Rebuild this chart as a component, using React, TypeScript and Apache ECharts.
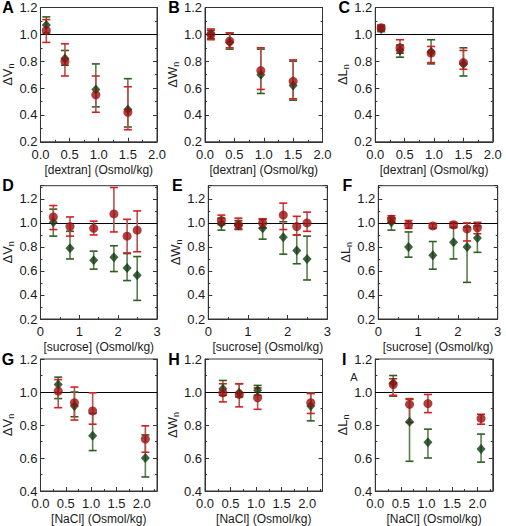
import React, { useEffect, useRef } from "react";
import * as echarts from "echarts";

// ---------- data ----------
const dextranOsm = [0.1, 0.42, 0.95, 1.5];
const sucroseOsm = [0.33, 0.76, 1.37, 1.89, 2.23, 2.49];
const naclOsm = [0.35, 0.67, 1.03, 2.07];

// Panel A – ΔVn, dextran
const aGreen = [1.07, 0.82, 0.59, 0.44];
const aGreenLo = [1.01, 0.77, 0.46, 0.31];
const aGreenHi = [1.13, 0.88, 0.78, 0.67];
const aRed = [1.03, 0.8, 0.55, 0.42];
const aRedLo = [0.94, 0.69, 0.42, 0.29];
const aRedHi = [1.11, 0.93, 0.69, 0.61];
// Panel B – ΔWn, dextran
const bGreen = [1.0, 0.94, 0.7, 0.62];
const bGreenLo = [0.97, 0.89, 0.56, 0.51];
const bGreenHi = [1.03, 1.01, 0.89, 0.8];
const bRed = [1.0, 0.95, 0.73, 0.65];
const bRedLo = [0.96, 0.9, 0.59, 0.52];
const bRedHi = [1.04, 1.01, 0.9, 0.81];
// Panel C – ΔLn, dextran
const cGreen = [1.04, 0.88, 0.87, 0.78];
const cGreenLo = [1.02, 0.83, 0.78, 0.69];
const cGreenHi = [1.06, 0.92, 0.96, 0.9];
const cRed = [1.05, 0.9, 0.86, 0.79];
const cRedLo = [1.03, 0.86, 0.79, 0.74];
const cRedHi = [1.07, 0.96, 0.91, 0.88];
// Panel D – ΔVn, sucrose
const dGreen = [1.005, 0.79, 0.69, 0.715, 0.625, 0.565];
const dGreenLo = [0.89, 0.7, 0.615, 0.595, 0.52, 0.355];
const dGreenHi = [1.115, 0.93, 0.765, 0.81, 0.745, 0.72];
const dRed = [1.05, 0.97, 0.955, 1.075, 0.89, 0.94];
const dRedLo = [0.945, 0.89, 0.9, 0.925, 0.75, 0.76];
const dRedHi = [1.145, 1.05, 1.015, 1.295, 1.03, 1.1];
// Panel E – ΔWn, sucrose
const eGreen = [0.995, 0.98, 0.955, 0.88, 0.77, 0.7];
const eGreenLo = [0.94, 0.945, 0.865, 0.74, 0.66, 0.525];
const eGreenHi = [1.04, 1.02, 1.03, 1.01, 0.9, 0.89];
const eRed = [1.02, 0.985, 1.0, 1.065, 0.97, 1.0];
const eRedLo = [0.985, 0.95, 0.96, 0.945, 0.9, 0.93];
const eRedHi = [1.065, 1.04, 1.035, 1.165, 1.055, 1.09];
// Panel F – ΔLn, sucrose
const fGreen = [1.005, 0.8, 0.73, 0.84, 0.8, 0.875];
const fGreenLo = [0.94, 0.715, 0.615, 0.7, 0.505, 0.755];
const fGreenHi = [1.04, 0.925, 0.845, 0.96, 0.965, 0.975];
const fRed = [1.03, 0.985, 0.975, 0.985, 0.95, 0.96];
const fRedLo = [1.0, 0.955, 0.955, 0.965, 0.85, 0.91];
const fRedHi = [1.06, 1.02, 0.995, 1.005, 1.0, 1.005];
// Panel G – ΔVn, NaCl
const gGreen = [1.045, 0.915, 0.735, 0.6];
const gGreenLo = [0.96, 0.85, 0.645, 0.485];
const gGreenHi = [1.09, 1.0, 0.87, 0.74];
const gRed = [1.005, 0.935, 0.885, 0.715];
const gRedLo = [0.905, 0.83, 0.805, 0.635];
const gRedHi = [1.075, 1.03, 0.995, 0.795];
// Panel H – ΔWn, NaCl
const hGreen = [1.02, 0.995, 1.01, 0.915];
const hGreenLo = [0.98, 0.97, 0.98, 0.825];
const hGreenHi = [1.07, 1.05, 1.04, 0.995];
const hRed = [0.995, 0.985, 0.965, 0.935];
const hRedLo = [0.94, 0.91, 0.895, 0.87];
const hRedHi = [1.05, 1.05, 1.025, 0.99];
// Panel I – ΔLn, NaCl
const iGreen = [1.055, 0.82, 0.695, 0.655];
const iGreenLo = [0.975, 0.58, 0.6, 0.575];
const iGreenHi = [1.1, 0.955, 0.775, 0.745];
const iRed = [1.045, 0.925, 0.93, 0.84];
const iRedLo = [0.98, 0.815, 0.875, 0.805];
const iRedHi = [1.08, 0.96, 0.985, 0.865];

const panelLetters = ["A", "B", "C", "D", "E", "F", "G", "H", "I"];
const yNames = ["ΔV", "ΔW", "ΔL", "ΔV", "ΔW", "ΔL", "ΔV", "ΔW", "ΔL"];
const xNames = [
  "[dextran] (Osmol/kg)",
  "[sucrose] (Osmol/kg)",
  "[NaCl] (Osmol/kg)",
];

// ---------- styling / layout ----------
const FONT = "'Liberation Sans', Arial, sans-serif";
const GREEN_CAP = "#2f5f1f";
const GREEN_STEM = "#5d8050";
const GREEN_MARK = "#0e3a10";
const RED_CAP = "#d42020";
const RED_STEM = "#b85050";
const RED_MARK = "#9a1010";

type Layout = { left: number; top: number; width: number; height: number };
const layouts: Layout[] = [
  { left: 39, top: 7.5, width: 118, height: 134.3 },
  { left: 205, top: 7.5, width: 117.5, height: 134.3 },
  { left: 375.3, top: 7.5, width: 117.5, height: 134.3 },
  { left: 39, top: 185.7, width: 118, height: 133.3 },
  { left: 208.3, top: 185.7, width: 119, height: 133.3 },
  { left: 378.3, top: 185.7, width: 119.4, height: 133.3 },
  { left: 39, top: 359, width: 118, height: 132.7 },
  { left: 205, top: 359, width: 117.5, height: 132.7 },
  { left: 375.3, top: 359, width: 117.5, height: 132.7 },
];
const rowY = [
  { min: 0.2, max: 1.2 },
  { min: 0.2, max: 1.31 },
  { min: 0.4, max: 1.2 },
];
const rowX = [
  { min: 0, max: 2, interval: 0.5, dec: 1 },
  { min: 0, max: 3, interval: 1, dec: 0 },
  { min: 0, max: 2.3, interval: 0.5, dec: 1 },
];

const panelData = [
  { x: dextranOsm, g: [aGreen, aGreenLo, aGreenHi], r: [aRed, aRedLo, aRedHi] },
  { x: dextranOsm, g: [bGreen, bGreenLo, bGreenHi], r: [bRed, bRedLo, bRedHi] },
  { x: dextranOsm, g: [cGreen, cGreenLo, cGreenHi], r: [cRed, cRedLo, cRedHi] },
  { x: sucroseOsm, g: [dGreen, dGreenLo, dGreenHi], r: [dRed, dRedLo, dRedHi] },
  { x: sucroseOsm, g: [eGreen, eGreenLo, eGreenHi], r: [eRed, eRedLo, eRedHi] },
  { x: sucroseOsm, g: [fGreen, fGreenLo, fGreenHi], r: [fRed, fRedLo, fRedHi] },
  { x: naclOsm, g: [gGreen, gGreenLo, gGreenHi], r: [gRed, gRedLo, gRedHi] },
  { x: naclOsm, g: [hGreen, hGreenLo, hGreenHi], r: [hRed, hRedLo, hRedHi] },
  { x: naclOsm, g: [iGreen, iGreenLo, iGreenHi], r: [iRed, iRedLo, iRedHi] },
];

function errorBar(cap: string, stem: string) {
  return (_params: any, api: any) => {
    const x = api.value(0);
    const pLo = api.coord([x, api.value(1)]);
    const pHi = api.coord([x, api.value(2)]);
    const hw = 4;
    return {
      type: "group",
      children: [
        {
          type: "line",
          shape: { x1: pHi[0], y1: pHi[1], x2: pLo[0], y2: pLo[1] },
          style: { stroke: stem, lineWidth: 1.6 },
        },
        {
          type: "line",
          shape: { x1: pHi[0] - hw, y1: pHi[1], x2: pHi[0] + hw, y2: pHi[1] },
          style: { stroke: cap, lineWidth: 1.6 },
        },
        {
          type: "line",
          shape: { x1: pLo[0] - hw, y1: pLo[1], x2: pLo[0] + hw, y2: pLo[1] },
          style: { stroke: cap, lineWidth: 1.6 },
        },
      ],
    };
  };
}

function buildOption() {
  const grid: any[] = [];
  const xAxis: any[] = [];
  const yAxis: any[] = [];
  const series: any[] = [];
  const graphic: any[] = [];
  const axisColor = "#333";
  const labelColor = "#1a1a1a";

  layouts.forEach((l, i) => {
    const row = Math.floor(i / 3);
    const xr = rowX[row];
    const yr = rowY[row];
    grid.push({
      left: l.left,
      top: l.top,
      width: l.width,
      height: l.height,
      show: true,
      borderColor: axisColor,
      borderWidth: 1,
      backgroundColor: "transparent",
    });
    xAxis.push({
      type: "value",
      gridIndex: i,
      min: xr.min,
      max: xr.max,
      interval: xr.interval,
      name: xNames[row],
      nameLocation: "middle",
      nameGap: 22,
      nameTextStyle: { fontSize: 12, fontFamily: FONT, color: labelColor },
      axisLine: { show: true, onZero: false, lineStyle: { color: axisColor, width: 1 } },
      axisTick: { show: true, inside: true, length: 4, lineStyle: { color: axisColor } },
      minorTick: { show: true, splitNumber: 2, length: 2, lineStyle: { color: axisColor } },
      splitLine: { show: false },
      axisLabel: {
        fontSize: 13,
        fontFamily: FONT,
        color: labelColor,
        margin: 6,
        showMaxLabel: xr.max % xr.interval === 0 ? true : false,
        formatter: (v: number) => v.toFixed(xr.dec),
      },
    });
    yAxis.push({
      type: "value",
      gridIndex: i,
      min: yr.min,
      max: yr.max,
      interval: 0.2,
      name: `{a|${yNames[i]}}{b|n}`,
      nameLocation: "middle",
      nameRotate: 90,
      nameGap: 24,
      nameTextStyle: {
        fontFamily: FONT,
        color: labelColor,
        rich: {
          a: { fontSize: 13, fontFamily: FONT, color: labelColor },
          b: { fontSize: 9, fontFamily: FONT, color: labelColor, padding: [7, 0, 0, 0] },
        },
      },
      axisLine: { show: true, onZero: false, lineStyle: { color: axisColor, width: 1 } },
      axisTick: { show: true, inside: true, length: 4, lineStyle: { color: axisColor } },
      minorTick: { show: true, splitNumber: 2, length: 2, lineStyle: { color: axisColor } },
      splitLine: { show: false },
      axisLabel: {
        fontSize: 13,
        fontFamily: FONT,
        color: labelColor,
        margin: 3,
        showMaxLabel: row === 1 ? false : true,
        formatter: (v: number) => v.toFixed(1),
      },
    });
    // right-hand tick axis
    yAxis.push({
      type: "value",
      gridIndex: i,
      position: "right",
      min: yr.min,
      max: yr.max,
      interval: 0.2,
      axisLine: { show: true, onZero: false, lineStyle: { color: axisColor, width: 1 } },
      axisTick: { show: true, inside: true, length: 4, lineStyle: { color: axisColor } },
      minorTick: { show: true, splitNumber: 2, length: 2, lineStyle: { color: axisColor } },
      splitLine: { show: false },
      axisLabel: { show: false },
    });

    const d = panelData[i];
    const yIdx = i * 2;
    const gBars = d.x.map((x, k) => [x, d.g[1][k], d.g[2][k]]);
    const rBars = d.x.map((x, k) => [x, d.r[1][k], d.r[2][k]]);
    series.push({
      type: "custom",
      xAxisIndex: i,
      yAxisIndex: yIdx,
      renderItem: errorBar(GREEN_CAP, GREEN_STEM),
      encode: { x: 0, y: [1, 2] },
      data: gBars,
      silent: true,
      z: 2,
    });
    series.push({
      type: "custom",
      xAxisIndex: i,
      yAxisIndex: yIdx,
      renderItem: errorBar(RED_CAP, RED_STEM),
      encode: { x: 0, y: [1, 2] },
      data: rBars,
      silent: true,
      z: 2,
    });
    series.push({
      type: "scatter",
      xAxisIndex: i,
      yAxisIndex: yIdx,
      symbol: "diamond",
      symbolSize: [9, 10],
      itemStyle: { color: GREEN_MARK },
      data: d.x.map((x, k) => [x, d.g[0][k]]),
      z: 3,
      markLine: {
        silent: true,
        symbol: ["none", "none"],
        label: { show: false },
        lineStyle: { color: "#000", width: 1, type: "solid" },
        data: [{ yAxis: 1 }],
        z: 1,
      },
    });
    series.push({
      type: "scatter",
      xAxisIndex: i,
      yAxisIndex: yIdx,
      symbol: "circle",
      symbolSize: 9,
      itemStyle: { color: RED_MARK },
      data: d.x.map((x, k) => [x, d.r[0][k]]),
      z: 4,
    });

    graphic.push({
      type: "text",
      x: l.left - 31,
      y: l.top,
      style: {
        text: panelLetters[i],
        font: `bold 16px ${FONT}`,
        fill: "#000",
        textAlign: "center",
        textVerticalAlign: "middle",
      },
    });
  });

  graphic.push({
    type: "text",
    x: 354,
    y: 377,
    style: {
      text: "A",
      font: `11px ${FONT}`,
      fill: "#222",
      textAlign: "center",
      textVerticalAlign: "middle",
    },
  });

  return {
    animation: false,
    backgroundColor: "#fff",
    grid,
    xAxis,
    yAxis,
    series,
    graphic,
  };
}

export default function App() {
  const ref = useRef<HTMLDivElement>(null);
  useEffect(() => {
    if (!ref.current) return;
    const chart = echarts.init(ref.current, undefined, { renderer: "svg" });
    chart.setOption(buildOption() as any);
    return () => chart.dispose();
  }, []);
  return (
    <div
      ref={ref}
      style={{ position: "absolute", left: 0, top: 0, width: 506, height: 526, background: "#fff" }}
    />
  );
}
